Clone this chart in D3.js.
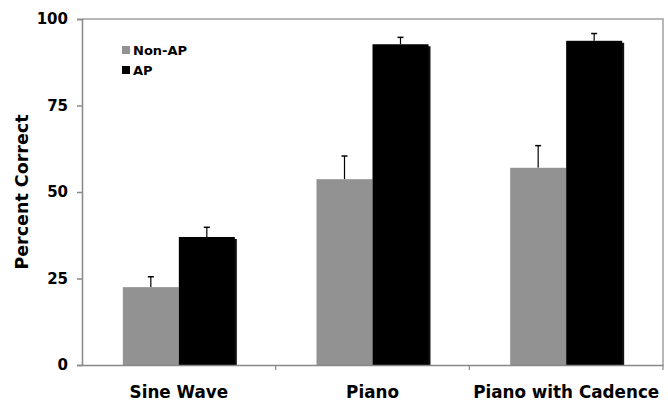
<!DOCTYPE html>
<html>
<head>
<meta charset="utf-8">
<script src="https://cdnjs.cloudflare.com/ajax/libs/d3/7.8.5/d3.min.js"></script>
<style>
  body { margin: 0; background: #fff; }
  text { font-family: "DejaVu Sans", Verdana, sans-serif; font-weight: bold; fill: #000; }
</style>
</head>
<body>
<script>
// data
var categories = ["Sine Wave", "Piano", "Piano with Cadence"];
var seriesNames = ["Non-AP", "AP"];
var nonAP = [22.5, 53.7, 57.0];
var nonAPErr = [3.0, 6.7, 6.4];
var ap = [37.0, 92.7, 93.7];
var apErr = [2.8, 2.0, 2.1];
var yTicks = [0, 25, 50, 75, 100];

var width = 668, height = 401;
var margin = {top: 19, right: 5, bottom: 36, left: 82};

var svg = d3.select("body").append("svg")
    .attr("width", width)
    .attr("height", height);

var x = d3.scaleBand()
    .domain(categories)
    .range([margin.left, width - margin.right])
    .paddingInner(0)
    .paddingOuter(0);

var y = d3.scaleLinear()
    .domain([0, 100])
    .range([height - margin.bottom, margin.top]);

var barW = 56;
var colors = {"Non-AP": "#929292", "AP": "#000000"};

// plot border (top + right)
svg.append("path")
    .attr("d", "M" + margin.left + "," + y(100) + "H" + (width - margin.right) + "V" + y(0))
    .attr("fill", "none")
    .attr("stroke", "#a0a0a0")
    .attr("stroke-width", 1.5);

var rows = categories.map(function (c, i) {
  return [
    {cat: c, s: "Non-AP", v: nonAP[i], e: nonAPErr[i], off: -barW},
    {cat: c, s: "AP", v: ap[i], e: apErr[i], off: 0}
  ];
});
var bars = d3.merge(rows);

function barX(d) { return x(d.cat) + x.bandwidth() / 2 + d.off; }

var g = svg.append("g");

// error bars (upper half only)
g.selectAll("line.err")
    .data(bars)
    .enter().append("line")
    .attr("class", "err")
    .attr("x1", function (d) { return barX(d) + barW / 2; })
    .attr("x2", function (d) { return barX(d) + barW / 2; })
    .attr("y1", function (d) { return y(d.v); })
    .attr("y2", function (d) { return y(d.v + d.e); })
    .attr("stroke", "#000")
    .attr("stroke-width", 1.2);

g.selectAll("line.cap")
    .data(bars)
    .enter().append("line")
    .attr("class", "cap")
    .attr("x1", function (d) { return barX(d) + barW / 2 - 3; })
    .attr("x2", function (d) { return barX(d) + barW / 2 + 3; })
    .attr("y1", function (d) { return y(d.v + d.e); })
    .attr("y2", function (d) { return y(d.v + d.e); })
    .attr("stroke", "#000")
    .attr("stroke-width", 1.5);

// shadow for black bars
g.selectAll("rect.shadow")
    .data(bars.filter(function (d) { return d.s === "AP"; }))
    .enter().append("rect")
    .attr("class", "shadow")
    .attr("x", function (d) { return barX(d) + 2; })
    .attr("y", function (d) { return y(d.v) + 2; })
    .attr("width", barW)
    .attr("height", function (d) { return y(0) - y(d.v) - 2; })
    .attr("fill", "#111");

g.selectAll("rect.bar")
    .data(bars)
    .enter().append("rect")
    .attr("class", "bar")
    .attr("x", barX)
    .attr("y", function (d) { return y(d.v); })
    .attr("width", barW)
    .attr("height", function (d) { return y(0) - y(d.v); })
    .attr("fill", function (d) { return colors[d.s]; });

// y axis
var yAxis = svg.append("g")
    .attr("transform", "translate(" + margin.left + ",0)")
    .call(d3.axisLeft(y).tickValues(yTicks).tickSize(5).tickPadding(9));
yAxis.select(".domain").attr("stroke", "#888").attr("stroke-width", 1.5);
yAxis.selectAll(".tick line").attr("stroke", "#888").attr("stroke-width", 1.5);
yAxis.selectAll(".tick text").style("font-size", "15px").style("font-weight", "bold")
    .style("font-family", "'DejaVu Sans', Verdana, sans-serif").attr("fill", "#000");

// x axis
var xAxis = svg.append("g")
    .attr("transform", "translate(0," + y(0) + ")")
    .call(d3.axisBottom(x).tickSize(0).tickPadding(21));
xAxis.select(".domain").attr("stroke", "#888").attr("stroke-width", 1.5);
xAxis.selectAll(".tick text").style("font-size", "16.8px").style("font-weight", "bold")
    .style("font-family", "'DejaVu Sans', Verdana, sans-serif").attr("fill", "#000");

// category separators
var sepX = categories.slice(1).map(function (c) { return x(c); }).concat([width - margin.right]);
svg.selectAll("line.sep")
    .data(sepX)
    .enter().append("line")
    .attr("class", "sep")
    .attr("x1", function (d) { return d; })
    .attr("x2", function (d) { return d; })
    .attr("y1", y(0))
    .attr("y2", y(0) + 5)
    .attr("stroke", "#888")
    .attr("stroke-width", 1.2);

// y title
svg.append("text")
    .attr("transform", "translate(28," + (y(50)) + ") rotate(-90)")
    .attr("text-anchor", "middle")
    .style("font-size", "17.5px")
    .text("Percent Correct");

// legend
var legend = svg.append("g").attr("transform", "translate(122,46)");
var li = legend.selectAll("g")
    .data(seriesNames)
    .enter().append("g")
    .attr("transform", function (d, i) { return "translate(0," + (i * 20) + ")"; });
li.append("rect")
    .attr("width", 8).attr("height", 8)
    .attr("fill", function (d) { return colors[d]; });
li.append("text")
    .attr("x", 11).attr("y", 9)
    .style("font-size", "13px")
    .text(function (d) { return d; });
</script>
</body>
</html>
